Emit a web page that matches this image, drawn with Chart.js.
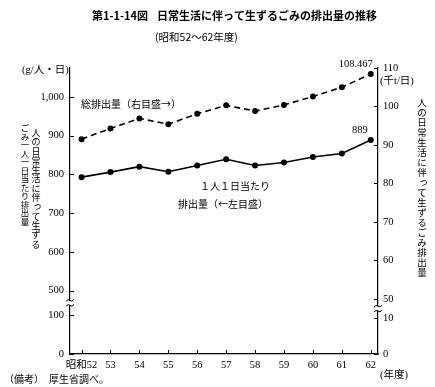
<!DOCTYPE html>
<html>
<head>
<meta charset="utf-8">
<script src="https://cdn.jsdelivr.net/npm/chart.js"></script>
<style>
  html, body { margin: 0; padding: 0; background: #fff; }
</style>
</head>
<body>
<canvas id="myChart" width="435" height="387"></canvas>
<script>
var years = [52, 53, 54, 55, 56, 57, 58, 59, 60, 61, 62];
var yearLabels = ["昭和52", "53", "54", "55", "56", "57", "58", "59", "60", "61", "62"];

// 1人1日当たり排出量 (g/人・日) left axis
var perPerson = [793, 806, 820, 807, 823, 839, 823, 831, 845, 854, 889];
// 総排出量 (千t/日) right axis
var totalAmount = [91.5, 94.3, 96.9, 95.4, 98.1, 100.3, 98.8, 100.4, 102.6, 105.0, 108.467];

// broken axes: the two lowest ticks stand for 0 and 100 / 0 and 10
var leftTicks = [336, 436, 500, 600, 700, 800, 900, 1000];
var leftTickLabels = ["0", "100", "500", "600", "700", "800", "900", "1,000"];
var rightTicks = [35.7, 45, 50, 60, 70, 80, 90, 100, 110];
var rightTickLabels = ["0", "10", "50", "60", "70", "80", "90", "100", "110"];

var serif = "'Liberation Serif', 'Noto Sans CJK JP', serif";
var jp = "'Noto Sans CJK JP', sans-serif";

function vtext(ctx, str, x, y, step) {
  for (var i = 0; i < str.length; i++) {
    var ch = str[i];
    var dx = 0, dy = 0;
    if (ch === "っ") { dx = 1.5; dy = -1.5; }
    ctx.fillText(ch, x + dx, y + i * step + dy);
  }
}

var decor = {
  id: "decor",
  afterDraw: function (chart) {
    var ctx = chart.ctx;
    var area = chart.chartArea;
    var xs = chart.scales.x, yl = chart.scales.yL, yr = chart.scales.yR;
    ctx.save();
    ctx.strokeStyle = "#000";
    ctx.lineWidth = 1;

    // inward tick marks
    ctx.beginPath();
    leftTicks.forEach(function (v) {
      var p = Math.round(yl.getPixelForValue(v)) + 0.5;
      ctx.moveTo(area.left, p); ctx.lineTo(area.left + 4, p);
    });
    rightTicks.forEach(function (v) {
      var p = Math.round(yr.getPixelForValue(v)) + 0.5;
      ctx.moveTo(area.right, p); ctx.lineTo(area.right - 4, p);
    });
    years.forEach(function (v) {
      var p = Math.round(xs.getPixelForValue(v)) + 0.5;
      ctx.moveTo(p, area.bottom); ctx.lineTo(p, area.bottom - 4);
    });
    ctx.stroke();

    // axis break marks
    function brk(x, y) {
      ctx.fillStyle = "#fff";
      ctx.fillRect(x - 2, y - 2, 4, 4);
      ctx.beginPath();
      for (var k = -1; k <= 1; k += 2) {
        var yy = y + k * 2.5;
        ctx.moveTo(x - 4, yy + 1);
        ctx.quadraticCurveTo(x - 2, yy - 2, x, yy);
        ctx.quadraticCurveTo(x + 2, yy + 2, x + 4, yy - 1);
      }
      ctx.stroke();
    }
    brk(area.left, (yl.getPixelForValue(436) + yl.getPixelForValue(500)) / 2);
    brk(area.right, (yr.getPixelForValue(45) + yr.getPixelForValue(50)) / 2);

    ctx.fillStyle = "#000";
    ctx.textBaseline = "middle";

    // title
    ctx.textAlign = "left";
    ctx.font = "bold 11px " + jp;
    ctx.fillText("第1-1-14図", 92, 16);
    ctx.fillText("日常生活に伴って生ずるごみの排出量の推移", 157, 16);
    ctx.font = "10.5px " + jp;
    ctx.fillText("(昭和52～62年度)", 155, 37);

    // units
    ctx.font = "10.5px " + serif;
    ctx.fillText("(g/人・日)", 22, 70);
    ctx.fillText("(千t/日)", 380, 81);
    ctx.fillText("(年度)", 380, 375);

    // annotations
    ctx.font = "10px " + jp;
    ctx.fillText("総排出量（右目盛→）", 81, 104);
    ctx.fillText("１人１日当たり", 200, 186);
    ctx.fillText("排出量（←左目盛）", 178, 204);

    // end values
    var m0 = chart.getDatasetMeta(0).data, m1 = chart.getDatasetMeta(1).data;
    var pL = m0[m0.length - 1], pR = m1[m1.length - 1];
    ctx.font = "10.5px " + serif;
    ctx.textAlign = "right";
    ctx.fillText("889", pL.x - 3, pL.y - 10);
    ctx.fillText("108.467", pR.x + 2, pR.y - 10);

    // footnote
    ctx.textAlign = "left";
    ctx.font = "10px " + jp;
    ctx.fillText("（備考）　厚生省調べ。", 4, 379);

    // vertical axis titles
    ctx.textAlign = "center";
    ctx.textBaseline = "top";
    ctx.font = "9px " + jp;
    vtext(ctx, "人の日常生活に伴って生ずる", 36, 128, 9.3);
    ctx.font = "8.5px " + jp;
    vtext(ctx, "ごみ一人一日当たり排出量", 25, 124, 8.5);
    ctx.font = "9.5px " + jp;
    vtext(ctx, "人の日常生活に伴って生ずるごみ排出量", 422, 98, 10);
    ctx.restore();
  }
};

var pointsLeft = years.map(function (y, i) { return { x: y, y: perPerson[i] }; });
var pointsRight = years.map(function (y, i) { return { x: y, y: totalAmount[i] }; });

new Chart("myChart", {
  type: "line",
  data: {
    datasets: [{
      label: "1人1日当たり排出量",
      data: pointsLeft,
      yAxisID: "yL",
      borderColor: "#000",
      backgroundColor: "#000",
      borderWidth: 1.6,
      pointRadius: 2.2,
      fill: false
    }, {
      label: "総排出量",
      data: pointsRight,
      yAxisID: "yR",
      borderColor: "#000",
      backgroundColor: "#000",
      borderWidth: 1.6,
      borderDash: [6, 4],
      pointRadius: 2.2,
      fill: false
    }]
  },
  options: {
    responsive: false,
    animation: false,
    layout: { padding: { top: 68, left: 0, right: 0, bottom: 0 } },
    plugins: { legend: { display: false }, tooltip: { enabled: false } },
    scales: {
      x: {
        type: "linear",
        min: 51.6,
        max: 62.25,
        afterBuildTicks: function (s) { s.ticks = years.map(function (v) { return { value: v }; }); },
        afterFit: function (s) { s.height = 33; },
        ticks: {
          autoSkip: false, maxRotation: 0, padding: 5, color: "#000",
          font: { family: serif, size: 10.5 },
          callback: function (v, i) { return yearLabels[i]; }
        },
        grid: { display: false, drawTicks: false },
        border: { color: "#000", width: 1.2 }
      },
      yL: {
        position: "left",
        min: 336,
        max: 1075,
        afterBuildTicks: function (s) { s.ticks = leftTicks.map(function (v) { return { value: v }; }); },
        afterFit: function (s) { s.width = 70; },
        ticks: {
          padding: 6, color: "#000",
          font: { family: serif, size: 10.5 },
          callback: function (v, i) { return leftTickLabels[i]; }
        },
        grid: { display: false, drawTicks: false },
        border: { color: "#000", width: 1.2 }
      },
      yR: {
        position: "right",
        min: 35.7,
        max: 110,
        afterBuildTicks: function (s) { s.ticks = rightTicks.map(function (v) { return { value: v }; }); },
        afterFit: function (s) { s.width = 57; },
        ticks: {
          padding: 5, color: "#000",
          font: { family: serif, size: 10.5 },
          callback: function (v, i) { return rightTickLabels[i]; }
        },
        grid: { display: false, drawTicks: false },
        border: { color: "#000", width: 1.2 }
      }
    }
  },
  plugins: [decor]
});
</script>
</body>
</html>
